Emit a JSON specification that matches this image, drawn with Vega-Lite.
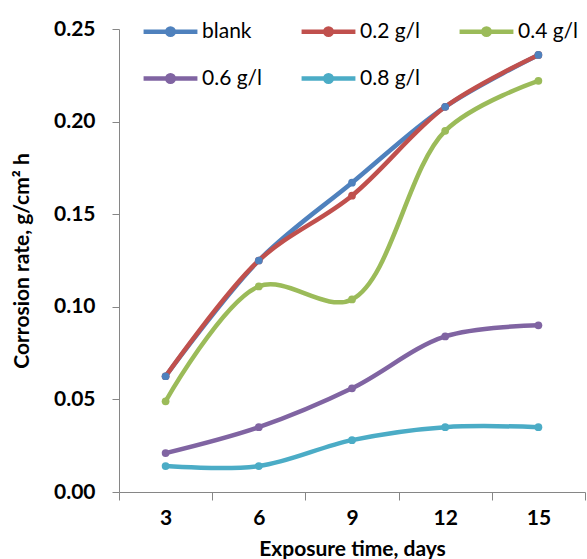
{
  "$schema": "https://vega.github.io/schema/vega-lite/v6.json",
  "width": 466,
  "height": 463,
  "autosize": {"type": "none"},
  "padding": {"left": 119, "top": 29, "right": 2, "bottom": 67},
  "config": {
    "view": {"stroke": null},
    "font": "Lato",
    "axis": {"domainColor": "#868686", "tickColor": "#868686", "grid": false, "labelFont": "Lato", "titleFont": "Lato", "labelColor": "#000", "titleColor": "#000"}
  },
  "data": {
    "values": [
      {"day": 3, "rate": 0.0625, "series": "blank"},
      {"day": 6, "rate": 0.125, "series": "blank"},
      {"day": 9, "rate": 0.167, "series": "blank"},
      {"day": 12, "rate": 0.208, "series": "blank"},
      {"day": 15, "rate": 0.236, "series": "blank"},
      {"day": 3, "rate": 0.0625, "series": "0.2 g/l"},
      {"day": 6, "rate": 0.125, "series": "0.2 g/l"},
      {"day": 9, "rate": 0.160, "series": "0.2 g/l"},
      {"day": 12, "rate": 0.208, "series": "0.2 g/l"},
      {"day": 15, "rate": 0.236, "series": "0.2 g/l"},
      {"day": 3, "rate": 0.049, "series": "0.4 g/l"},
      {"day": 6, "rate": 0.111, "series": "0.4 g/l"},
      {"day": 9, "rate": 0.104, "series": "0.4 g/l"},
      {"day": 12, "rate": 0.195, "series": "0.4 g/l"},
      {"day": 15, "rate": 0.222, "series": "0.4 g/l"},
      {"day": 3, "rate": 0.021, "series": "0.6 g/l"},
      {"day": 6, "rate": 0.035, "series": "0.6 g/l"},
      {"day": 9, "rate": 0.056, "series": "0.6 g/l"},
      {"day": 12, "rate": 0.084, "series": "0.6 g/l"},
      {"day": 15, "rate": 0.090, "series": "0.6 g/l"},
      {"day": 3, "rate": 0.014, "series": "0.8 g/l"},
      {"day": 6, "rate": 0.014, "series": "0.8 g/l"},
      {"day": 9, "rate": 0.028, "series": "0.8 g/l"},
      {"day": 12, "rate": 0.035, "series": "0.8 g/l"},
      {"day": 15, "rate": 0.035, "series": "0.8 g/l"}
    ]
  },
  "mark": {"type": "line", "interpolate": "catmull-rom", "strokeWidth": 4.5, "point": {"filled": true, "size": 60}},
  "encoding": {
    "x": {
      "field": "day", "type": "ordinal",
      "scale": {"paddingInner": 0, "paddingOuter": 0},
      "axis": {"title": "Exposure time, days", "labelAngle": 0, "tickBand": "extent", "tickSize": 8, "labelFontSize": 21, "labelFontWeight": "bold", "labelPadding": 7, "titleFontSize": 21, "titleFontWeight": "bold", "titlePadding": 10}
    },
    "y": {
      "field": "rate", "type": "quantitative",
      "scale": {"domain": [0, 0.25], "nice": false},
      "axis": {"title": "Corrosion rate, g/cm² h", "values": [0, 0.05, 0.1, 0.15, 0.2, 0.25], "format": ".2f", "tickSize": 7, "labelFontSize": 21, "labelFontWeight": "bold", "labelPadding": 17, "titleFontSize": 21, "titleFontWeight": "bold", "titlePadding": 21}
    },
    "color": {
      "field": "series", "type": "nominal",
      "sort": ["blank", "0.2 g/l", "0.4 g/l", "0.6 g/l", "0.8 g/l"],
      "scale": {"domain": ["blank", "0.2 g/l", "0.4 g/l", "0.6 g/l", "0.8 g/l"], "range": ["#4F81BD", "#C0504D", "#9BBB59", "#8064A2", "#4BACC6"]},
      "legend": {
        "title": null, "orient": "none", "legendX": 22, "legendY": -27,
        "direction": "horizontal",
        "columns": 3, "columnPadding": 29, "rowPadding": 5, "gridAlign": "all",
        "symbolType": "M-1,0L1,0M-0.12,0a0.12,0.12 0 1,0 0.24,0a0.12,0.12 0 1,0 -0.24,0",
        "symbolSize": 2900, "symbolStrokeWidth": 4.5,
        "labelFontSize": 21, "labelFont": "Lato", "labelColor": "#000", "labelOffset": 2
      }
    },
    "order": {"field": "series"}
  }
}
